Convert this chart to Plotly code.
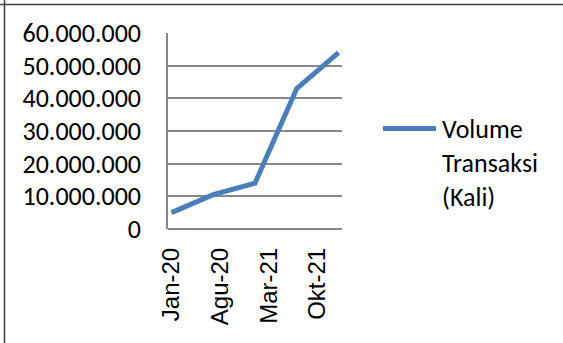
import plotly.graph_objects as go

# Data
months = [0, 6, 12, 18, 24]          # months since Jan-20 (semiannual points)
volume = [5000000, 10500000, 14000000, 43000000, 54000000]
tick_pos = [0, 7, 14, 21]
tick_labels = ["Jan-20", "Agu-20", "Mar-21", "Okt-21"]
series_name = "Volume<br>Transaksi<br>(Kali)"
y_ticks = [0, 10000000, 20000000, 30000000, 40000000, 50000000, 60000000]

W, H = 563, 343
L, R, T, B = 168, 221, 33, 114
pw, ph = W - L - R, H - T - B

def px_x(x):
    return (x - L) / pw

def px_y(y):
    return (H - B - y) / ph

calib = "Carlito, Lato, sans-serif"
blue = "#4A7EBB"
grid = "#878787"

fig = go.Figure()
fig.add_trace(go.Scatter(
    x=months, y=volume, mode="lines", name=series_name,
    line=dict(color=blue, width=5), showlegend=False,
))

fig.update_layout(
    width=W, height=H,
    margin=dict(l=L, r=R, t=T, b=B),
    paper_bgcolor="white", plot_bgcolor="white",
    separators=",.",
    xaxis=dict(
        range=[-0.5, 24.5], tickvals=tick_pos, ticktext=tick_labels,
        tickangle=-90, showgrid=False, zeroline=False,
        showline=False, ticks="",
        tickfont=dict(family="Liberation Sans, Arial", size=24, color="black"),
        ticklabelstandoff=13,
    ),
    yaxis=dict(
        range=[0, 60000000], tickvals=y_ticks, tickformat=",d",
        showgrid=True, gridcolor=grid, gridwidth=1.5,
        zeroline=True, zerolinecolor=grid, zerolinewidth=1.5,
        showline=True, linecolor=grid, linewidth=1.5, ticks="",
        tickfont=dict(family=calib, size=26, color="black"),
        ticklabelstandoff=20,
    ),
    shapes=[
        # outer frame (top and left)
        dict(type="line", xref="paper", yref="paper",
             x0=px_x(0), x1=px_x(W), y0=px_y(4.5), y1=px_y(4.5),
             line=dict(color="#404040", width=1.5)),
        dict(type="line", xref="paper", yref="paper",
             x0=px_x(4.5), x1=px_x(4.5), y0=px_y(0), y1=px_y(H),
             line=dict(color="#404040", width=1.5)),
        # legend sample line
        dict(type="line", xref="paper", yref="paper",
             x0=px_x(383), x1=px_x(436), y0=px_y(128.5), y1=px_y(128.5),
             line=dict(color=blue, width=5)),
    ],
    annotations=[
        dict(xref="paper", yref="paper", x=px_x(440), y=px_y(111),
             xanchor="left", yanchor="top", align="left", showarrow=False,
             text=series_name,
             font=dict(family=calib, size=26, color="black")),
    ],
)

fig.write_html("out.html")
